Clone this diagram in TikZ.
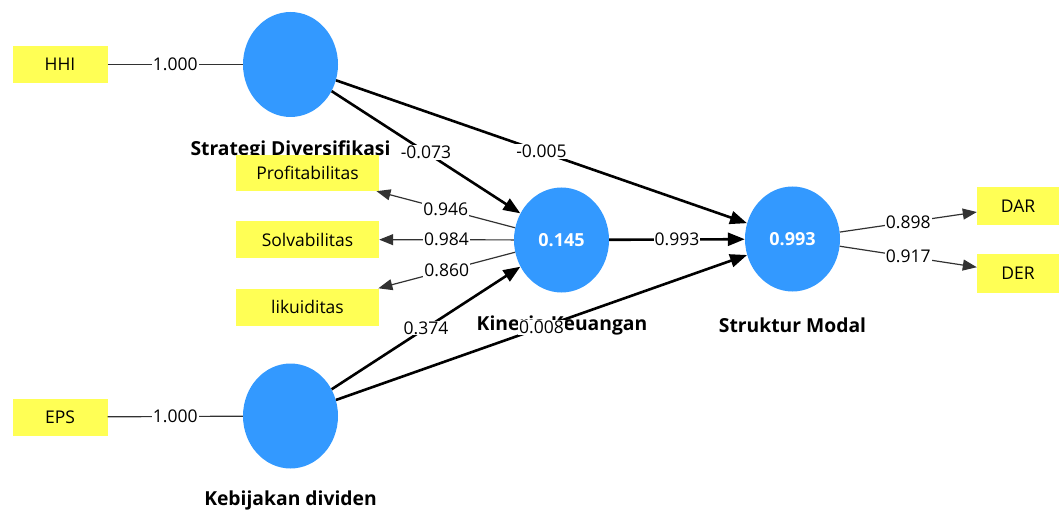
\documentclass[tikz,border=0pt]{standalone}
\usepackage{fontspec}
\setmainfont{Open Sans}
\usetikzlibrary{shapes.geometric,arrows.meta}
\definecolor{lvblue}{RGB}{51,153,255}
\definecolor{mvyellow}{RGB}{255,255,85}
\definecolor{linegray}{RGB}{50,50,50}
\begin{document}
\begin{tikzpicture}[x=1pt,y=-1pt,
  lv/.style={ellipse, fill=lvblue, minimum width=95pt, minimum height=105pt, inner sep=0pt, text=white, font=\fontsize{18}{20}\selectfont\bfseries},
  mv/.style={rectangle, fill=mvyellow, minimum height=37pt, inner sep=0pt, font=\fontsize{17.5}{20}\selectfont},
  ttl/.style={font=\fontsize{19.3}{22}\selectfont\bfseries},
  strpath/.style={line width=2.6pt, -{Triangle[length=17pt,width=13pt]}},
  loadarrow/.style={line width=1.2pt, draw=linegray, -{Triangle[length=14pt,width=11pt]}},
  loadline/.style={line width=1.2pt, draw=linegray},
  lbl/.style={fill=white, inner sep=1pt, font=\fontsize{17.5}{20}\selectfont},
]
\useasboundingbox (0,0) rectangle (1060,513);

% titles
\node[ttl] (t1) at (290.5,150) {Strategi Diversifikasi};
\node[ttl] (t2) at (562,325) {Kinerja Keuangan};
\node[ttl] (t3) at (792.5,325) {Struktur Modal};
\node[ttl] (t4) at (290.5,500) {Kebijakan dividen};

% indicators
\node[mv, minimum width=95pt] (hhi) at (60,64.5) {HHI};
\node[mv, minimum width=95pt] (eps) at (60,417) {EPS};
\node[mv, minimum width=143pt, minimum height=36pt] (prof) at (307.5,173) {Profitabilitas};
\node[mv, minimum width=143pt] (solv) at (307.5,239.5) {Solvabilitas};
\node[mv, minimum width=143pt] (likd) at (307.5,307) {likuiditas};
\node[mv, minimum width=82pt, minimum height=38pt] (dar) at (1018,206) {DAR};
\node[mv, minimum width=82pt, minimum height=39pt] (der) at (1018,273.5) {DER};

% latent variables
\node[lv] (sd) at (290.5,64.5) {};
\node[lv] (kd) at (290.5,416) {};
\node[lv] (kk) at (561.5,240) {0.145};
\node[lv] (sm) at (792.5,239) {0.993};

% outer links
\draw[loadline] (hhi) -- node[lbl] {1.000} (sd);
\draw[loadline] (eps) -- node[lbl] {1.000} (kd);
\draw[loadarrow] (kk) -- node[lbl] {0.946} (prof);
\draw[loadarrow] (kk) -- node[lbl] {0.984} (solv);
\draw[loadarrow] (kk) -- node[lbl] {0.860} (likd);
\draw[loadarrow] (sm) -- node[lbl] {0.898} (dar);
\draw[loadarrow] (sm) -- node[lbl] {0.917} (der);

% inner paths
\draw[strpath] (sd) -- node[lbl] {-0.073} (kk);
\draw[strpath] (sd) -- node[lbl] {-0.005} (sm);
\draw[strpath] (kk) -- node[lbl] {0.993} (sm);
\draw[strpath] (kd) -- node[lbl] {0.374} (kk);
\draw[strpath] (kd) -- node[lbl] {0.008} (sm);
\end{tikzpicture}
\end{document}
